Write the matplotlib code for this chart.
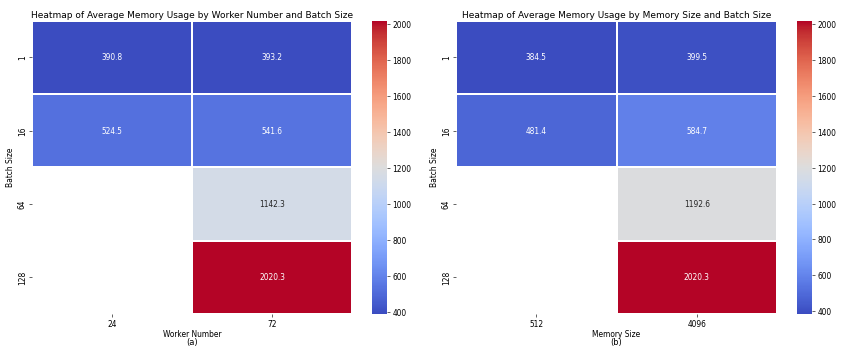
import numpy as np
import pandas as pd
import matplotlib
matplotlib.use("Agg")
import matplotlib.pyplot as plt
import seaborn as sns

batch_sizes = [1, 16, 64, 128]
worker_numbers = [24, 72]
memory_sizes = [512, 4096]

mem_by_worker = [
    [390.8, 393.2],
    [524.5, 541.6],
    [np.nan, 1142.3],
    [np.nan, 2020.3],
]
mem_by_memsize = [
    [384.5, 399.5],
    [481.4, 584.7],
    [np.nan, 1192.6],
    [np.nan, 2020.3],
]

df_a = pd.DataFrame(mem_by_worker, index=batch_sizes, columns=worker_numbers)
df_b = pd.DataFrame(mem_by_memsize, index=batch_sizes, columns=memory_sizes)

# original looks like a 16x6.5 figure shrunk to 865 px wide
fig = plt.figure(figsize=(16, 6.52), dpi=865 / 16)

W, H = 865.0, 352.0
bottom = (H - 314) / H
height = 293 / H
ax1 = fig.add_axes([32 / W, bottom, 320 / W, height])
cax1 = fig.add_axes([372 / W, bottom, 15 / W, height])
ax2 = fig.add_axes([456 / W, bottom, 321 / W, height])
cax2 = fig.add_axes([797 / W, bottom, 15 / W, height])

panels = [
    (ax1, cax1, df_a, "Worker Number", "Heatmap of Average Memory Usage by Worker Number and Batch Size", "(a)"),
    (ax2, cax2, df_b, "Memory Size", "Heatmap of Average Memory Usage by Memory Size and Batch Size", "(b)"),
]

for ax, cax, df, xlab, title, tag in panels:
    sns.heatmap(df, ax=ax, cbar_ax=cax, cmap="coolwarm", annot=True, fmt=".1f",
                linewidths=0.25, linecolor="white")
    ax.set_title(title, pad=4)
    ax.set_xlabel(xlab, labelpad=2)
    ax.set_ylabel("Batch Size")
    ax.set_yticklabels(ax.get_yticklabels(), rotation=90, va="center")
    ax.set_xticklabels(ax.get_xticklabels(), rotation=0)
    pos = ax.get_position()
    fig.text(pos.x0 + pos.width / 2, (H - 342) / H, tag, ha="center", va="center", fontsize=11)

fig.savefig("out.png", dpi=865 / 16)
